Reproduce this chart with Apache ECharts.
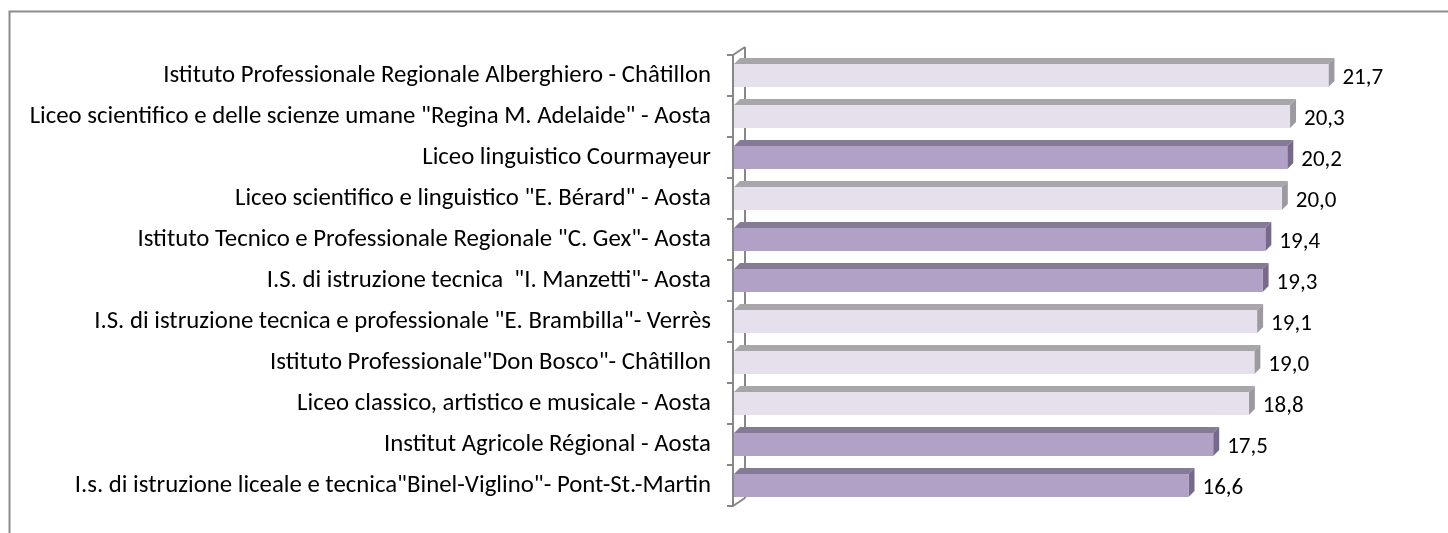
<!DOCTYPE html>
<html>
<head>
<meta charset="utf-8">
<script src="https://cdn.jsdelivr.net/npm/echarts@6/dist/echarts.min.js"></script>
<style>
  html, body { margin: 0; padding: 0; background: #ffffff; }
  #chart { width: 1448px; height: 533px; }
</style>
</head>
<body>
<div id="chart"></div>
<script>
const categories = [
  'Istituto Professionale Regionale Alberghiero - Châtillon',
  'Liceo scientifico e delle scienze umane "Regina M. Adelaide" - Aosta',
  'Liceo linguistico Courmayeur',
  'Liceo scientifico e linguistico "E. Bérard" - Aosta',
  'Istituto Tecnico e Professionale Regionale "C. Gex"- Aosta',
  'I.S. di istruzione tecnica  "I. Manzetti"- Aosta',
  'I.S. di istruzione tecnica e professionale "E. Brambilla"- Verrès',
  'Istituto Professionale"Don Bosco"- Châtillon',
  'Liceo classico, artistico e musicale - Aosta',
  'Institut Agricole Régional - Aosta',
  'I.s. di istruzione liceale e tecnica"Binel-Viglino"- Pont-St.-Martin'
];
const values = [21.7, 20.3, 20.2, 20.0, 19.4, 19.3, 19.1, 19.0, 18.8, 17.5, 16.6];
// 1 = dark (highlighted) bar, 0 = light bar
const highlighted = [0, 0, 1, 0, 1, 1, 0, 0, 0, 1, 1];

const palette = {
  light: { front: '#E6E0EC', top: '#A8A6AB', side: '#9C99A1' },
  dark:  { front: '#B2A1C7', top: '#867B96', side: '#76698A' }
};
const axisGray = '#878787';
const fontFamily = 'Carlito, Lato, "Open Sans", sans-serif';

const barData = values.map((v, i) => [i, v, highlighted[i]]);

function fmt(v) { return v.toFixed(1).replace('.', ','); }

function renderBar(params, api) {
  const cat = api.value(0);
  const val = api.value(1);
  const dark = api.value(2) === 1;
  const col = dark ? palette.dark : palette.light;
  const p0 = api.coord([0, cat]);
  const p1 = api.coord([val, cat]);
  const h = 23, d = 6;
  const x0 = p0[0] + 1, x1 = p1[0];
  const yt = p0[1] - h / 2, yb = p0[1] + h / 2;
  return {
    type: 'group',
    children: [
      { type: 'polygon', shape: { points: [[x0, yt], [x0 + d, yt - d], [x1 + d, yt - d], [x1, yt]] },
        style: { fill: col.top } },
      { type: 'polygon', shape: { points: [[x1, yt], [x1 + d, yt - d], [x1 + d, yb - d], [x1, yb]] },
        style: { fill: col.side } },
      { type: 'rect', shape: { x: x0, y: yt, width: x1 - x0, height: h },
        style: { fill: col.front } },
      { type: 'text', x: x1 + d + 8, y: p0[1] + 3,
        style: { text: fmt(val), fill: '#000', font: '23px ' + fontFamily,
                 align: 'left', verticalAlign: 'middle' } }
    ]
  };
}

function renderWall(params, api) {
  const cs = params.coordSys;
  const dx = 12, dy = 8;
  const ls = { stroke: axisGray, lineWidth: 2 };
  return {
    type: 'group',
    children: [
      { type: 'line', shape: { x1: cs.x + dx, y1: cs.y - dy, x2: cs.x + dx, y2: cs.y + cs.height - dy }, style: ls },
      { type: 'line', shape: { x1: cs.x, y1: cs.y, x2: cs.x + dx, y2: cs.y - dy }, style: ls },
      { type: 'line', shape: { x1: cs.x, y1: cs.y + cs.height, x2: cs.x + dx, y2: cs.y + cs.height - dy }, style: ls }
    ]
  };
}

const chart = echarts.init(document.getElementById('chart'), null, { renderer: 'canvas' });
chart.setOption({
  backgroundColor: '#ffffff',
  animation: false,
  graphic: [
    { type: 'rect', left: 7, top: 9, shape: { width: 1600, height: 700 },
      style: { fill: 'none', stroke: '#8C8C8C', lineWidth: 2 }, silent: true, z: -10 }
  ],
  grid: { left: 733, right: 29, top: 55, bottom: 27, containLabel: false },
  xAxis: { type: 'value', min: 0, max: 25, show: false },
  yAxis: {
    type: 'category', inverse: true, data: categories,
    axisLine: { show: true, lineStyle: { color: axisGray, width: 2 } },
    axisTick: { show: true, length: 6, lineStyle: { color: axisGray, width: 2 } },
    axisLabel: { margin: 22, color: '#000', fontSize: 24.8, fontFamily: fontFamily,
                 padding: [16, 0, 0, 0] },
    splitLine: { show: false }
  },
  series: [
    { type: 'custom', renderItem: renderWall, data: [[0, 0]], z: 1, silent: true },
    { type: 'custom', renderItem: renderBar, data: barData, encode: { x: 1, y: 0 }, z: 2 }
  ]
});
</script>
</body>
</html>
